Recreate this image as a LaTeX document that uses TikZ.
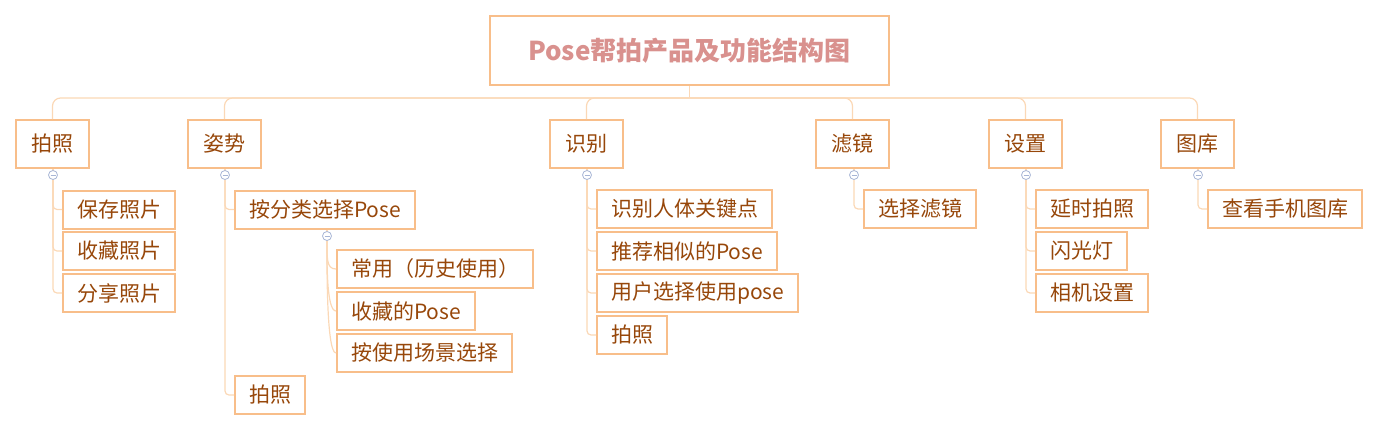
\documentclass[tikz,border=0pt]{standalone}
\usepackage{fontspec}
\setmainfont{Noto Sans CJK SC}
\usepackage{xcolor}
\usetikzlibrary{calc}
\definecolor{boxline}{HTML}{F8BE8A}
\definecolor{wordcol}{HTML}{97470A}
\definecolor{titlecol}{HTML}{D9918E}
\definecolor{linkcol}{HTML}{FBD8B6}
\definecolor{foldcol}{HTML}{A8B6D6}

\begin{document}
\begin{tikzpicture}[x=1pt, y=-1pt,
	topic/.style={draw=boxline, line width=2pt, text=titlecol, font=\fontsize{26}{30}\selectfont\bfseries, minimum width=399, minimum height=69},
	branch/.style={draw=boxline, line width=2pt, text=wordcol, font=\fontsize{21}{24}\selectfont, minimum width=73, minimum height=48, inner sep=0pt},
	leaf/.style={draw=boxline, line width=2pt, text=wordcol, font=\fontsize{21}{24}\selectfont, anchor=west, minimum height=38, inner xsep=14pt, inner ysep=0pt},
	link/.style={draw=linkcol, line width=1.2pt},
	fold/.style={draw=foldcol, fill=white, line width=0.8pt, circle, minimum size=9, inner sep=0pt}]
	\useasboundingbox (0,0) rectangle (1381,431);

	\node [topic] (root) at (689.5,50.5) {Pose帮拍产品及功能结构图};

	\node [branch] (paizhao) at (52.5,144) {拍照};
	\node [branch] (zishi) at (224.5,144) {姿势};
	\node [branch] (shibie) at (586.5,144) {识别};
	\node [branch] (lvjing) at (852.5,144) {滤镜};
	\node [branch] (shezhi) at (1025.5,144) {设置};
	\node [branch] (tuku) at (1197.5,144) {图库};

	\draw [link] (root.south) -- ++(0,12) coordinate (bus);
	\foreach \b in {paizhao, zishi, shibie, lvjing, shezhi, tuku}
		\draw [link, rounded corners=8] (bus) -| (\b.north);

	% children
	\node [leaf] (baocun) at (62,209.5) {保存照片};
	\node [leaf] (shoucang) at (62,251) {收藏照片};
	\node [leaf] (fenxiang) at (62,293) {分享照片};

	\node [leaf] (fenlei) at (234,209.5) {按分类选择Pose};
	\node [leaf] (changyong) at (336,269) {常用（历史使用）};
	\node [leaf] (shoucangpose) at (336,311) {收藏的Pose};
	\node [leaf] (changjing) at (336,353) {按使用场景选择};
	\node [leaf] (zishipai) at (234,395) {拍照};

	\node [leaf] (guanjian) at (596,209) {识别人体关键点};
	\node [leaf] (tuijian) at (596,251) {推荐相似的Pose};
	\node [leaf] (yonghu) at (596,293) {用户选择使用pose};
	\node [leaf] (shibiepai) at (596,335) {拍照};

	\node [leaf] (xuanze) at (863,209) {选择滤镜};

	\node [leaf] (yanshi) at (1035,209) {延时拍照};
	\node [leaf] (shanguang) at (1035,251) {闪光灯};
	\node [leaf] (xiangji) at (1035,293) {相机设置};

	\node [leaf] (chakan) at (1207,209) {查看手机图库};

	% fold markers
	\coordinate (f1) at (53,175);
	\coordinate (f2) at (225,175);
	\coordinate (f3) at (587,175);
	\coordinate (f4) at (854,175);
	\coordinate (f5) at (1026,175);
	\coordinate (f6) at (1198,175);
	\coordinate (f7) at (327,236);

	\foreach \f/\c in {f1/baocun, f1/shoucang, f1/fenxiang, f2/fenlei, f2/zishipai,
		f3/guanjian, f3/tuijian, f3/yonghu, f3/shibiepai, f4/xuanze,
		f5/yanshi, f5/shanguang, f5/xiangji, f6/chakan}
		\draw [link, rounded corners=4] (\f) |- (\c.west);

	\foreach \c in {changyong, shoucangpose, changjing}
		\draw [link] (f7) .. controls +(0,22) and +(-10,0) .. (\c.west);

	\draw [link] (fenlei.south -| f7) -- (f7);
	\foreach \b/\f in {paizhao/f1, zishi/f2, shibie/f3, lvjing/f4, shezhi/f5, tuku/f6}
		\draw [link] (\b.south -| \f) -- (\f);

	\foreach \f in {f1, f2, f3, f4, f5, f6, f7} {
		\node [fold] at (\f) {};
		\draw [foldcol, line width=0.8pt] ($(\f)+(-2.5,0)$) -- ($(\f)+(2.5,0)$);
	}
\end{tikzpicture}
\end{document}
